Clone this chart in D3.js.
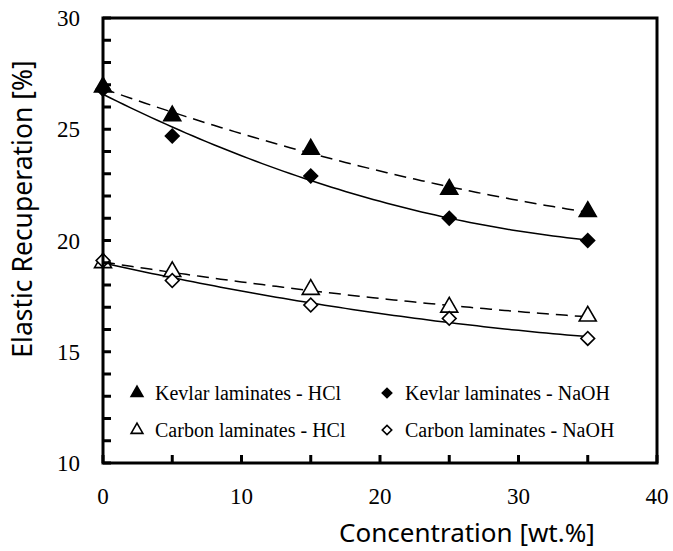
<!DOCTYPE html>
<html><head><meta charset="utf-8">
<script src="https://cdn.jsdelivr.net/npm/d3@7"></script>
<style>body{margin:0;background:#fff}</style>
</head><body>
<script>
const concentrations = [0, 5, 15, 25, 35];
const kevlarHCl = [26.9, 25.6, 24.1, 22.3, 21.3];
const kevlarNaOH = [26.8, 24.7, 22.9, 21.0, 20.0];
const carbonHCl = [19.0, 18.6, 17.8, 17.0, 16.6];
const carbonNaOH = [19.1, 18.2, 17.1, 16.5, 15.6];
const xTicks = [0, 10, 20, 30, 40];
const yTicks = [10, 15, 20, 25, 30];
const seriesNames = ["Kevlar laminates - HCl", "Kevlar laminates - NaOH", "Carbon laminates - HCl", "Carbon laminates - NaOH"];

const W = 673, H = 551;
const m = {l: 103, r: 16, t: 18, b: 88};
const svg = d3.select("body").append("svg").attr("width", W).attr("height", H);
const x = d3.scaleLinear().domain([0, 40]).range([m.l, W - m.r]);
const y = d3.scaleLinear().domain([10, 30]).range([H - m.b, m.t]);

const series = [
  {name: seriesNames[0], vals: kevlarHCl, shape: "tri", fill: "#000", dash: "12,7"},
  {name: seriesNames[1], vals: kevlarNaOH, shape: "dia", fill: "#000", dash: null},
  {name: seriesNames[2], vals: carbonHCl, shape: "tri", fill: "#fff", dash: "12,7"},
  {name: seriesNames[3], vals: carbonNaOH, shape: "dia", fill: "#fff", dash: null}
];

// quadratic least squares trend fit
function quadFit(xs, ys) {
  let S = [0,0,0,0,0], T = [0,0,0];
  xs.forEach((xv, i) => {
    for (let k = 0; k < 5; k++) S[k] += Math.pow(xv, k);
    for (let k = 0; k < 3; k++) T[k] += Math.pow(xv, k) * ys[i];
  });
  const A = [[S[0],S[1],S[2],T[0]],[S[1],S[2],S[3],T[1]],[S[2],S[3],S[4],T[2]]];
  for (let i = 0; i < 3; i++) {
    for (let j = i + 1; j < 3; j++) {
      const f = A[j][i] / A[i][i];
      for (let k = i; k < 4; k++) A[j][k] -= f * A[i][k];
    }
  }
  const c = [0,0,0];
  for (let i = 2; i >= 0; i--) {
    let s = A[i][3];
    for (let k = i + 1; k < 3; k++) s -= A[i][k] * c[k];
    c[i] = s / A[i][i];
  }
  return xv => c[0] + c[1] * xv + c[2] * xv * xv;
}

const line = d3.line().x(d => x(d[0])).y(d => y(d[1]));
series.forEach(s => {
  const f = quadFit(concentrations, s.vals);
  const pts = d3.range(0, 35.01, 0.5).map(v => [v, f(v)]);
  svg.append("path").attr("d", line(pts)).attr("fill", "none")
    .attr("stroke", "#000").attr("stroke-width", 1.5)
    .attr("stroke-dasharray", s.dash);
});

const triSym = d3.symbol().type(d3.symbolTriangle);
const diaSym = d3.symbol().type(d3.symbolSquare);
function marker(g, shape, fill, size) {
  if (shape === "tri") {
    g.append("path").attr("d", triSym.size(size)())
      .attr("fill", fill).attr("stroke", "#000").attr("stroke-width", 1.6);
  } else {
    g.append("path").attr("d", diaSym.size(size * 0.75)()).attr("transform", "rotate(45)")
      .attr("fill", fill).attr("stroke", "#000").attr("stroke-width", 1.6);
  }
}
series.forEach(s => {
  s.vals.forEach((v, i) => {
    const g = svg.append("g").attr("transform", `translate(${x(concentrations[i])},${y(v)})`);
    marker(g, s.shape, s.fill, 125);
  });
});

svg.append("rect").attr("x", m.l).attr("y", m.t).attr("width", W - m.r - m.l).attr("height", H - m.b - m.t)
  .attr("fill", "none").attr("stroke", "#000").attr("stroke-width", 3);

// ticks inside (drawn from scales)
const tickLen = 8;
const yMinor = y.ticks(20);
svg.append("g").attr("class", "yticks").selectAll("line").data(yMinor).enter().append("line")
  .attr("x1", m.l).attr("x2", m.l + tickLen)
  .attr("y1", d => y(d)).attr("y2", d => y(d))
  .style("stroke", "#000").style("stroke-width", "3px");
const xMinor = x.ticks(8);
svg.append("g").attr("class", "xticks").selectAll("line").data(xMinor).enter().append("line")
  .attr("x1", d => x(d)).attr("x2", d => x(d))
  .attr("y1", H - m.b).attr("y2", H - m.b - tickLen)
  .style("stroke", "#000").style("stroke-width", "3px");

const serif = "Liberation Serif, Times New Roman, serif";
const sans = "Noto Sans, Open Sans, sans-serif";
svg.selectAll(".yl").data(yTicks).enter().append("text")
  .attr("x", m.l - 23).attr("y", d => y(d)).attr("dy", "0.35em")
  .attr("text-anchor", "end").attr("font-family", serif)
  .attr("font-size", 23).text(d => d);
svg.selectAll(".xl").data(xTicks).enter().append("text")
  .attr("x", d => x(d)).attr("y", H - m.b + 33).attr("dy", "0.35em")
  .attr("text-anchor", "middle").attr("font-family", serif)
  .attr("font-size", 23).text(d => d);

svg.append("text").attr("x", 467).attr("y", 542).attr("text-anchor", "middle")
  .attr("font-family", sans).attr("font-size", 26)
  .text("Concentration [wt.%]");
svg.append("text").attr("transform", `translate(32,209) rotate(-90)`)
  .attr("text-anchor", "middle")
  .attr("font-family", sans).attr("font-size", 26.5)
  .text("Elastic Recuperation [%]");

const legPos = [[137, 393], [387, 393], [137, 430], [387, 430]];
series.forEach((s, i) => {
  const [lx, ly] = legPos[i];
  const g = svg.append("g").attr("transform", `translate(${lx},${ly})`);
  marker(g, s.shape, s.fill, 60);
  svg.append("text").attr("x", lx + 18).attr("y", ly).attr("dy", "0.35em")
    .attr("font-family", serif).attr("font-size", 20)
    .text(s.name);
});
</script>
</body></html>
